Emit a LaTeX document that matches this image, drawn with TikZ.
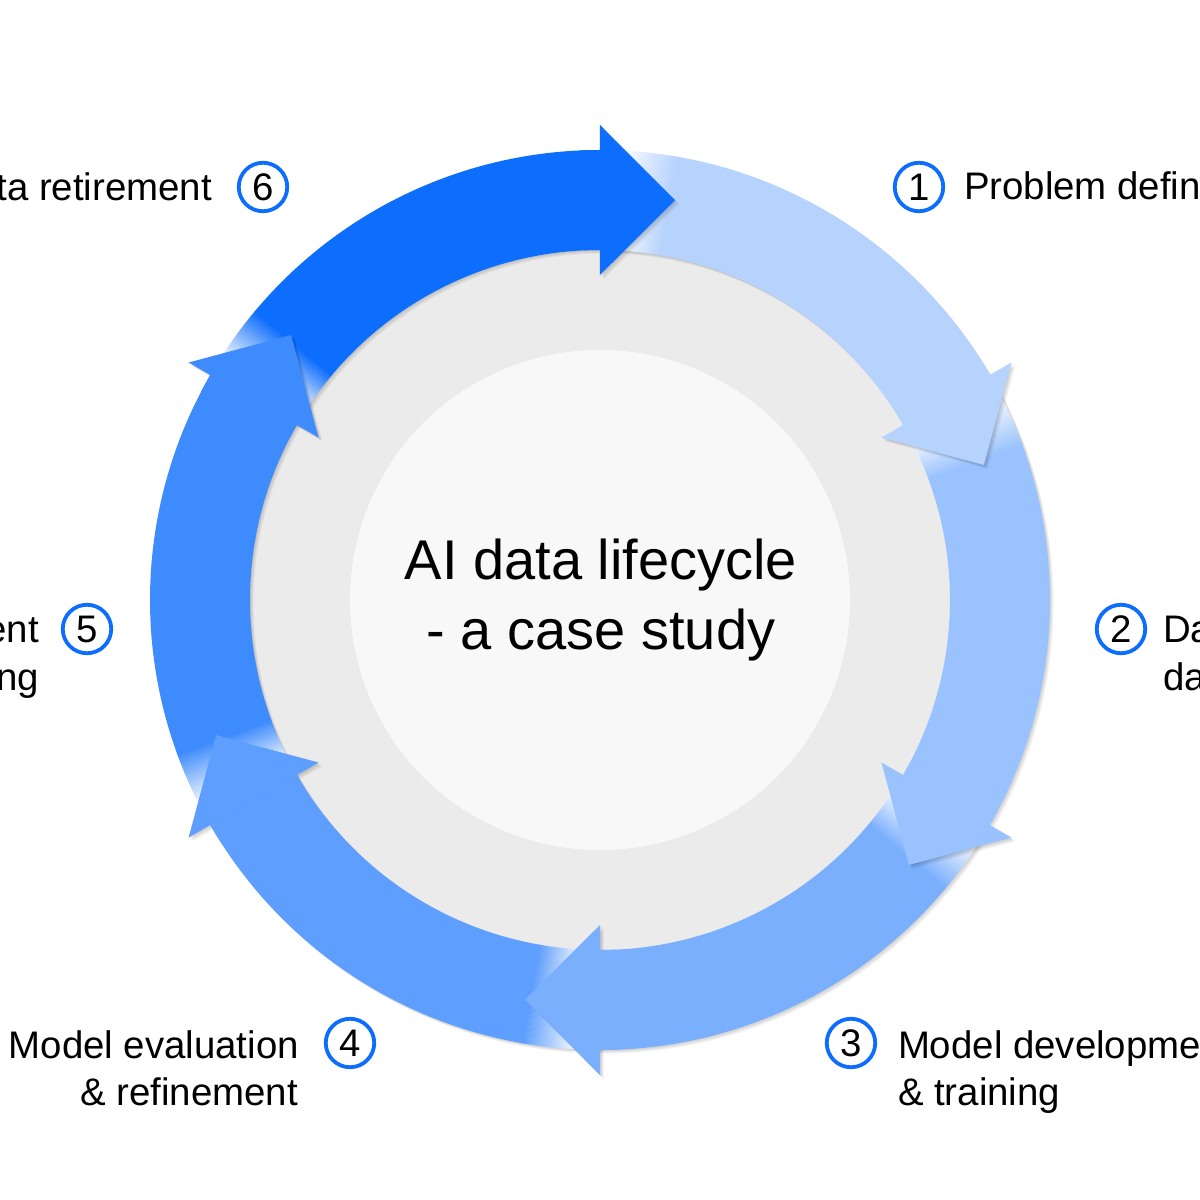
\documentclass[tikz,border=0pt]{standalone}
\usepackage{fontspec}
\setmainfont{Liberation Sans}
\definecolor{cA}{HTML}{0D6EFD}
\colorlet{segA}{cA!30!white}
\colorlet{segB}{cA!42!white}
\colorlet{segC}{cA!55!white}
\colorlet{segD}{cA!67!white}
\colorlet{segE}{cA!80!white}
\colorlet{segF}{cA}
\definecolor{diskgrey}{HTML}{EBEBEB}
\definecolor{diskin}{HTML}{F8F8F8}
\newcommand\lblfont{\fontsize{38.4}{48}\selectfont}
\newcommand\ttlfont{\fontsize{56}{70}\selectfont}
\tikzset{
  lbl/.style={inner sep=0pt, outer sep=0pt, font=\lblfont, text=black},
  ttl/.style={inner sep=0pt, outer sep=0pt, font=\ttlfont, text=black, anchor=base},
  numc/.style={circle, draw=cA, line width=3.8pt, minimum size=48.5pt, inner sep=0pt, font=\lblfont, text=black},
  shd/.style={black, opacity=0.045},
}
\begin{document}
\begin{tikzpicture}[x=1pt,y=1pt]
\useasboundingbox (-600,-600) rectangle (600,600);
\clip (-600,-600) rectangle (600,600);
\fill[white] (-600,-600) rectangle (600,600);
% central disks
\fill[diskgrey] (0,0) circle[radius=352];
\fill[diskin] (0,0) circle[radius=250];
% ring shadow
\foreach \k in {1,...,4}
  \fill[shd, even odd rule, shift={(\k*0.9,-\k*0.9)}] (0,0) circle[radius=450] (0,0) circle[radius=350];
% ring segments with faded starts
\foreach \s/\c in {90/segA,30/segB,-30/segC,-90/segD,-150/segE,-210/segF}{
  \pgfmathsetmacro\angE{\s-60}
  \pgfmathsetmacro\angF{\s-9.85}
  \fill[fill=\c] (\angF:450) arc[start angle=\angF, end angle=\angE, radius=450]
     -- (\angE:350) arc[start angle=\angE, end angle=\angF, radius=350] -- cycle;
  \foreach \i in {0,...,27}{
    \pgfmathsetmacro\angA{\s-3-\i*0.25+0.01}
    \pgfmathsetmacro\angB{\s-3-\i*0.25-0.27}
    \pgfmathtruncatemacro\p{4+(\i+1)*96/28}
    \fill[fill=\c!\p!white] (\angA:450) arc[start angle=\angA, end angle=\angB, radius=450]
       -- (\angB:350) arc[start angle=\angB, end angle=\angA, radius=350] -- cycle;
  }
}
% arrowheads
\foreach \e/\c in {30/segA,-30/segB,-90/segC,-150/segD,-210/segE,-270/segF}{
  \pgfmathsetmacro\angT{\e-10.62}
  \pgfmathsetmacro\angG{\e+2.5}
  \foreach \k in {1,...,5}
    \fill[black, opacity=0.04, shift={(\k*0.8,-\k*0.8)}] (\e:475) -- (\angT:406.96) -- (\e:325) -- cycle;
  \fill[fill=\c] (\e:475) -- (\angT:406.96) -- (\e:325) -- cycle;
  \fill[fill=\c] (\angG:450) arc[start angle=\angG, end angle=\e, radius=450]
     -- (\e:350) arc[start angle=\e, end angle=\angG, radius=350] -- cycle;
}
% title
\node[ttl] (title1) at (1,21) {AI data lifecycle};
\node[ttl] (title2) at (1,-49) {- a case study};
% numbered labels
\node[numc] (n1) at (319,413) {1};
\node[lbl, anchor=base west] (t1) at (364,400) {Problem defin};
\node[numc] (n2) at (521,-29) {2};
\node[lbl, anchor=base west] (t2a) at (563,-42) {Da};
\node[lbl, anchor=base west] (t2b) at (563,-90) {da};
\node[numc] (n3) at (251,-443) {3};
\node[lbl, anchor=base west] (t3a) at (298,-458) {Model developme};
\node[lbl, anchor=base west] (t3b) at (298,-505) {\& training};
\node[numc] (n4) at (-250,-443) {4};
\node[lbl, anchor=base east] (t4a) at (-301,-458) {Model evaluation};
\node[lbl, anchor=base east] (t4b) at (-302,-505) {\& refinement};
\node[numc] (n5) at (-513,-29) {5};
\node[lbl, anchor=base east] (t5a) at (-561,-42) {ent};
\node[lbl, anchor=base east] (t5b) at (-561,-90) {ng};
\node[numc] (n6) at (-337,413) {6};
\node[lbl, anchor=base east] (t6) at (-388,399) {ta retirement};
\end{tikzpicture}
\end{document}
